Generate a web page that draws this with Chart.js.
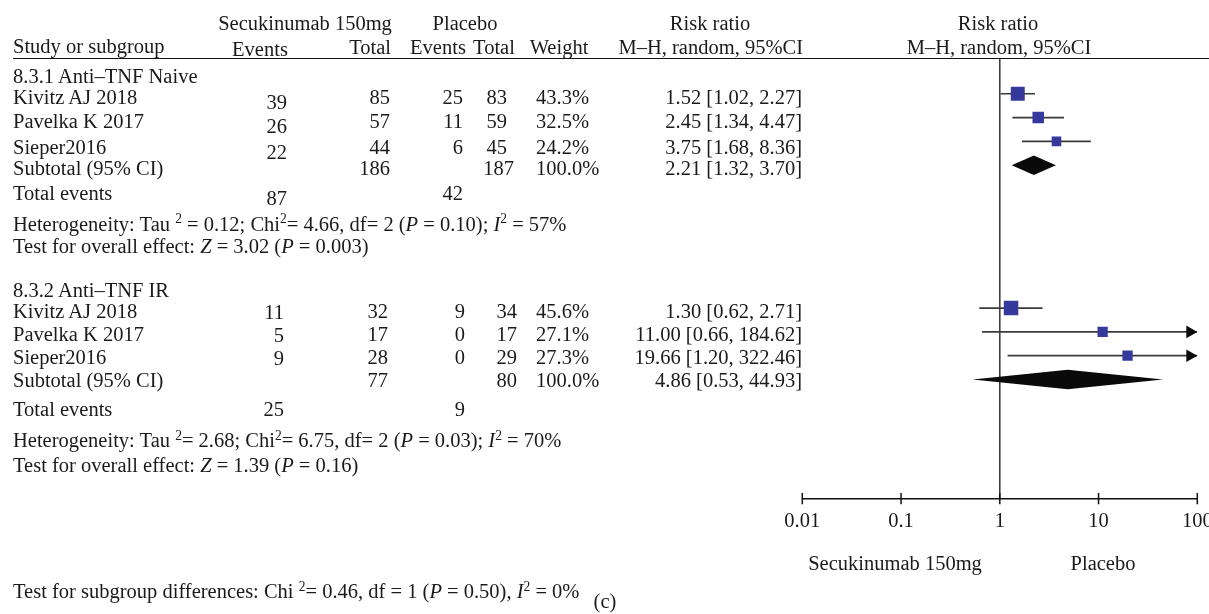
<!DOCTYPE html>
<html>
<head>
<meta charset="utf-8">
<script src="https://cdn.jsdelivr.net/npm/chart.js@4.4.1/dist/chart.umd.min.js"></script>
<style>
  html, body { margin:0; padding:0; background:#fff; }
  body { width:1209px; height:614px; overflow:hidden; position:relative; }
  #wrap { position:absolute; left:0; top:0; width:1240px; height:614px; }
  #layer { position:absolute; left:0; top:0; width:1209px; height:614px; }
  .t { position:absolute; white-space:nowrap; line-height:1; font-family:'Liberation Serif','DejaVu Serif',serif; font-size:20.5px; color:#1a1a1a; }
  .t .s { font-size:0.66em; position:relative; top:-0.55em; }
  .t i { font-style:italic; }
  #hline { position:absolute; left:13px; top:58px; width:1196px; height:0; border-top:1.5px solid #111; }
</style>
</head>
<body>
<div id="wrap"><canvas id="c" width="1240" height="614" style="width:1240px;height:614px"></canvas></div>
<div id="layer"><div id="hline"></div></div>
<script>
// ---------------- DATA ----------------
const studies = ['Kivitz AJ 2018', 'Pavelka K 2017', 'Sieper2016'];
const subgroups = ['8.3.1 Anti\u2013TNF Naive', '8.3.2 Anti\u2013TNF IR'];
const treatmentName = 'Secukinumab 150mg';
const controlName = 'Placebo';

// 8.3.1 Anti-TNF Naive
const g1SecEvents = [39, 26, 22];
const g1SecTotal  = [85, 57, 44];
const g1PlaEvents = [25, 11, 6];
const g1PlaTotal  = [83, 59, 45];
const g1Weight    = [43.3, 32.5, 24.2];
const g1RR        = [1.52, 2.45, 3.75];
const g1Low       = [1.02, 1.34, 1.68];
const g1High      = [2.27, 4.47, 8.36];

// 8.3.2 Anti-TNF IR
const g2SecEvents = [11, 5, 9];
const g2SecTotal  = [32, 17, 28];
const g2PlaEvents = [9, 0, 0];
const g2PlaTotal  = [34, 17, 29];
const g2Weight    = [45.6, 27.1, 27.3];
const g2RR        = [1.30, 11.00, 19.66];
const g2Low       = [0.62, 0.66, 1.20];
const g2High      = [2.71, 184.62, 322.46];

// subtotals per subgroup
const subSecTotal  = [186, 77];
const subPlaTotal  = [187, 80];
const subWeight    = [100.0, 100.0];
const subRR        = [2.21, 4.86];
const subLow       = [1.32, 0.53];
const subHigh      = [3.70, 44.93];
const totSecEvents = [87, 25];
const totPlaEvents = [42, 9];
const hetTau2 = [0.12, 2.68];
const hetChi2 = [4.66, 6.75];
const hetDf   = [2, 2];
const hetP    = [0.10, 0.03];
const hetI2   = [57, 70];
const effZ    = [3.02, 1.39];
const effP    = [0.003, 0.16];

// test for subgroup differences
const diffChi2 = [0.46];
const diffDf   = [1];
const diffP    = [0.50];
const diffI2   = [0];

const xTicks = [0.01, 0.1, 1, 10, 100];

// ---------------- LAYOUT (positions / styles) ----------------
const PAGE_W = 1209;
const X_MIN = 0.01, X_MAX = 100;
const ROW_IDX = [[0, 1, 2], [9, 10, 11]];
const SUB_IDX = [3, 12];
const Y_TOP = -1.46, Y_AXIS = 17;
const SQ_COLOR = '#35399c';
const LINE_COLOR = '#3a3a3a';

const groupsData = [
  { ev: g1SecEvents, tot: g1SecTotal, pev: g1PlaEvents, ptot: g1PlaTotal, w: g1Weight, rr: g1RR, lo: g1Low, hi: g1High },
  { ev: g2SecEvents, tot: g2SecTotal, pev: g2PlaEvents, ptot: g2PlaTotal, w: g2Weight, rr: g2RR, lo: g2Low, hi: g2High }
];
const TL = [
  { head: 75.5, rows: [97, 121, 146.5], evDy: 5, sub: 167.5, tot: 193, totEvDy: 5, het: 223.5, test: 246,
    c: { ev: 287, tot: 390, pev: 463, ptot: 507, ptotSub: 514, wt: 536, rr: 802 } },
  { head: 290, rows: [310.5, 333.5, 357], evDy: 1, sub: 380, tot: 409, totEvDy: 0, het: 440, test: 464.5,
    c: { ev: 284, tot: 388, pev: 465, ptot: 517, ptotSub: 517, wt: 536, rr: 802 } }
];

// ---------------- TEXT ----------------
const layer = document.getElementById('layer');
function addText(html, x, y, align) {
  const d = document.createElement('div');
  d.className = 't';
  d.innerHTML = html;
  d.style.top = y + 'px';
  if (align === 'right') {
    d.style.right = (PAGE_W - x) + 'px';
    d.style.transform = 'translateY(-50%)';
  } else if (align === 'center') {
    d.style.left = x + 'px';
    d.style.transform = 'translate(-50%,-50%)';
  } else {
    d.style.left = x + 'px';
    d.style.transform = 'translateY(-50%)';
  }
  layer.appendChild(d);
}
const f2 = v => v.toFixed(2);
const ci = (r, l, h) => f2(r) + ' [' + f2(l) + ', ' + f2(h) + ']';
const sup = s => '<span class="s">' + s + '</span>';

// headers
addText(treatmentName, 305, 22.5, 'center');
addText(controlName, 465, 22.5, 'center');
addText('Risk ratio', 710, 22.5, 'center');
addText('Risk ratio', 998, 22.5, 'center');
addText('Study or subgroup', 13, 46, 'left');
addText('Events', 260, 48.5, 'center');
addText('Total', 391, 47, 'right');
addText('Events', 438, 47, 'center');
addText('Total', 494, 47, 'center');
addText('Weight', 559, 47, 'center');
addText('M\u2013H, random, 95%CI', 803, 47, 'right');
addText('M\u2013H, random, 95%CI', 999, 47, 'center');

groupsData.forEach((g, gi) => {
  const L = TL[gi], c = L.c;
  addText(subgroups[gi], 13, L.head, 'left');
  studies.forEach((s, i) => {
    const y = L.rows[i];
    addText(s, 13, y, 'left');
    addText(String(g.ev[i]), c.ev, y + L.evDy, 'right');
    addText(String(g.tot[i]), c.tot, y, 'right');
    addText(String(g.pev[i]), c.pev, y, 'right');
    addText(String(g.ptot[i]), c.ptot, y, 'right');
    addText(g.w[i].toFixed(1) + '%', c.wt, y, 'left');
    addText(ci(g.rr[i], g.lo[i], g.hi[i]), c.rr, y, 'right');
  });
  addText('Subtotal (95% CI)', 13, L.sub, 'left');
  addText(String(subSecTotal[gi]), c.tot, L.sub, 'right');
  addText(String(subPlaTotal[gi]), c.ptotSub, L.sub, 'right');
  addText(subWeight[gi].toFixed(1) + '%', c.wt, L.sub, 'left');
  addText(ci(subRR[gi], subLow[gi], subHigh[gi]), c.rr, L.sub, 'right');
  addText('Total events', 13, L.tot, 'left');
  addText(String(totSecEvents[gi]), c.ev, L.tot + L.totEvDy, 'right');
  addText(String(totPlaEvents[gi]), c.pev, L.tot, 'right');
  const tauSep = gi === 0 ? ' = ' : '= ';
  addText('Heterogeneity: Tau ' + sup('2') + tauSep + f2(hetTau2[gi]) + '; Chi' + sup('2') + '= ' + f2(hetChi2[gi]) +
          ', df= ' + hetDf[gi] + ' (<i>P</i> = ' + f2(hetP[gi]) + '); <i>I</i>' + sup('2') + ' = ' + hetI2[gi] + '%', 13, L.het, 'left');
  addText('Test for overall effect: <i>Z</i> = ' + f2(effZ[gi]) + ' (<i>P</i> = ' + String(effP[gi]) + ')', 13, L.test, 'left');
});

addText('Test for subgroup differences: Chi ' + sup('2') + '= ' + f2(diffChi2[0]) + ', df = ' + diffDf[0] +
        ' (<i>P</i> = ' + f2(diffP[0]) + '), <i>I</i>' + sup('2') + ' = ' + diffI2[0] + '%', 13, 591, 'left');
addText(treatmentName, 895, 563, 'center');
addText(controlName, 1103, 563, 'center');
addText('(c)', 605, 601, 'center');

// ---------------- CHART ----------------
const datasets = [];
// squares
const sqPts = [], sqRad = [];
groupsData.forEach((g, gi) => g.rr.forEach((r, i) => {
  sqPts.push({ x: r, y: ROW_IDX[gi][i] });
  const side = 4 + g.w[i] * 0.23;
  sqRad.push(side / Math.SQRT2);
}));
datasets.push({ data: sqPts, pointStyle: 'rect', pointRadius: sqRad, pointHoverRadius: sqRad,
  backgroundColor: SQ_COLOR, borderWidth: 0, order: 0 });
// CI lines
groupsData.forEach((g, gi) => g.rr.forEach((r, i) => {
  const y = ROW_IDX[gi][i];
  datasets.push({ data: [{ x: g.lo[i], y }, { x: Math.min(g.hi[i], X_MAX), y }], showLine: true,
    borderColor: LINE_COLOR, borderWidth: 1.7, pointRadius: 0, order: 1 });
}));
// line of no effect
datasets.push({ data: [{ x: 1, y: Y_TOP }, { x: 1, y: Y_AXIS }], showLine: true,
  borderColor: '#333', borderWidth: 1.5, pointRadius: 0, order: 2 });

const forestPlugin = {
  id: 'forestExtras',
  afterDatasetsDraw(chart) {
    const ctx = chart.ctx, xs = chart.scales.x, ys = chart.scales.y;
    ctx.save();
    // diamonds for subtotals
    ctx.fillStyle = '#0a0a0a';
    subRR.forEach((r, gi) => {
      const y = ys.getPixelForValue(SUB_IDX[gi]);
      ctx.beginPath();
      ctx.moveTo(xs.getPixelForValue(subLow[gi]), y);
      ctx.lineTo(xs.getPixelForValue(r), y - 9.7);
      ctx.lineTo(xs.getPixelForValue(subHigh[gi]), y);
      ctx.lineTo(xs.getPixelForValue(r), y + 9.7);
      ctx.closePath();
      ctx.fill();
    });
    // arrows for CIs beyond the axis
    groupsData.forEach((g, gi) => g.hi.forEach((h, i) => {
      if (h > X_MAX) {
        const tip = xs.getPixelForValue(X_MAX), y = ys.getPixelForValue(ROW_IDX[gi][i]);
        ctx.beginPath();
        ctx.moveTo(tip, y);
        ctx.lineTo(tip - 11, y - 6.3);
        ctx.lineTo(tip - 11, y + 6.3);
        ctx.closePath();
        ctx.fill();
      }
    }));
    // axis tick marks crossing the axis line
    ctx.strokeStyle = '#111';
    ctx.lineWidth = 1.5;
    const yb = ys.getPixelForValue(Y_AXIS);
    xTicks.forEach(v => {
      const px = xs.getPixelForValue(v);
      ctx.beginPath();
      ctx.moveTo(px, yb - 5.7);
      ctx.lineTo(px, yb + 5.7);
      ctx.stroke();
    });
    ctx.restore();
  }
};

new Chart(document.getElementById('c').getContext('2d'), {
  type: 'scatter',
  data: { datasets },
  options: {
    responsive: false,
    animation: false,
    events: [],
    layout: { padding: { left: 802.3, right: 1240 - 1197.3, top: 59, bottom: 614 - 498.3 - (20.5 * 1.2 + 11) - 11.3 } },
    plugins: { legend: { display: false }, tooltip: { enabled: false } },
    scales: {
      x: {
        type: 'logarithmic', min: X_MIN, max: X_MAX, position: 'bottom',
        afterBuildTicks: s => { s.ticks = xTicks.map(v => ({ value: v })); },
        ticks: { autoSkip: false, maxRotation: 0, padding: 11, color: '#1a1a1a',
          font: { family: "'Liberation Serif', serif", size: 20.5 },
          callback: v => String(v) },
        grid: { display: false, drawTicks: false },
        border: { display: true, color: '#111', width: 1.5 }
      },
      y: { type: 'linear', reverse: true, min: Y_TOP, max: Y_AXIS, display: false }
    }
  },
  plugins: [forestPlugin]
});
</script>
</body>
</html>
